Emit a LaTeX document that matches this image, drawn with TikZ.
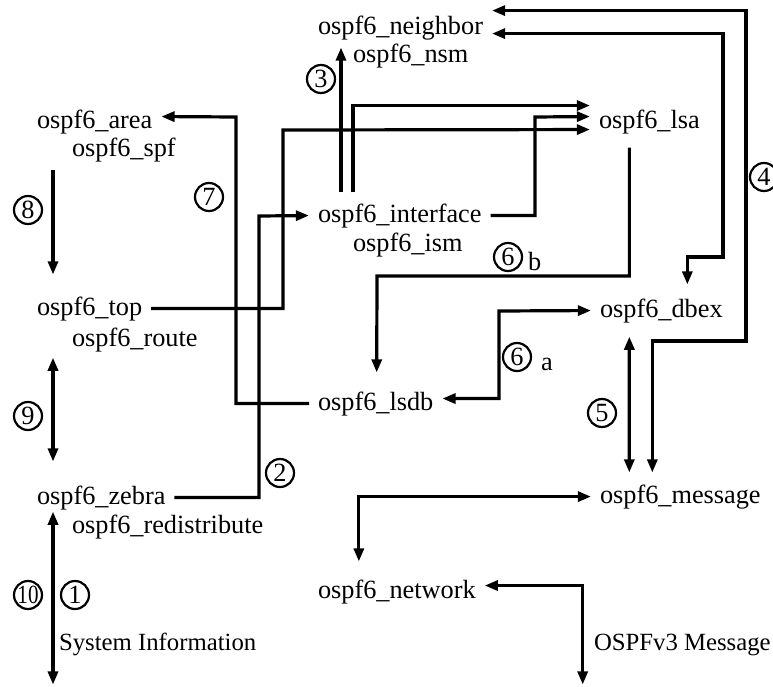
\documentclass[tikz,border=0pt]{standalone}
\usepackage{fontspec}
\setmainfont{Liberation Serif}
\usetikzlibrary{arrows.meta}

\begin{document}
\begin{tikzpicture}[x=0.25mm,y=-0.25mm,
  >={Triangle[length=3.3mm,width=2.5mm]},
  every node/.style={font=\fontsize{18.7pt}{22pt}\selectfont},
  mod/.style={anchor=text,inner xsep=2.25mm,inner ysep=0pt,outer sep=0pt},
  note/.style={anchor=text,inner sep=0pt,font=\fontsize{17.6pt}{21pt}\selectfont},
  num/.style={circle,draw,line width=0.55mm,minimum size=7mm,inner sep=0pt},
  link/.style={line width=0.8mm}]
  \path[use as bounding box] (0,0) rectangle (773,686);  % 1 unit = 1 px of the 773x686 canvas, y down
  % ---- modules: anchor=text puts the left end of the baseline at the coordinate ----
  \node[mod] (neighbor)  at (318, 35) {ospf6\_neighbor};
  \node[mod] (nsm)       at (353, 63) {ospf6\_nsm};
  \node[mod] (lsa)       at (599,128) {ospf6\_lsa};
  \node[mod] (area)      at ( 37,128) {ospf6\_area};
  \node[mod] (spf)       at ( 72,156) {ospf6\_spf};
  \node[mod] (interface) at (318,222) {ospf6\_interface};
  \node[mod] (ism)       at (353,251) {ospf6\_ism};
  \node[mod] (top)       at ( 37,315) {ospf6\_top};
  \node[mod] (route)     at ( 72,346) {ospf6\_route};
  \node[mod] (dbex)      at (600,317) {ospf6\_dbex};
  \node[mod] (lsdb)      at (318,410) {ospf6\_lsdb};
  \node[mod] (zebra)     at ( 37,504) {ospf6\_zebra};
  \node[mod] (redist)    at ( 72,533) {ospf6\_redistribute};
  \node[mod] (message)   at (600,503) {ospf6\_message};
  \node[mod] (network)   at (318,598) {ospf6\_network};
  \node[note] (sysinfo)  at ( 59,650) {System Information};
  \node[note] (wire)     at (594,650) {OSPFv3 Message};
  % ---- links ----
  \draw[link,->] (top.east) -| (283,130) -- ([yshift=-2mm]lsa.west);
  \draw[link,->] (zebra.east) -| (259,216) -- (interface.west);
  \draw[link,->] ([shift={(32,-11)}]interface.north west) -- ++(0,-145);
  \draw[link,->] ([shift={(44,-11)}]interface.north west) |- ([yshift=4mm]lsa.west);
  \draw[link,->] (interface.east) -| (535,117) -- ([yshift=1.25mm]lsa.west);
  \draw[link,->] ([shift={(-20,14)}]lsa.south) |- (377,276) -- ([shift={(1,-19)}]lsdb.north);
  \draw[link,->] (lsdb.west) -| (236,117) -- ([yshift=1.25mm]area.east);
  \draw[link,->] ([shift={(-10,8)}]spf.south west) -- ([shift={(25,-22)}]top.north west);
  \draw[link,<->] ([shift={(-10,6)}]route.south west) -- ([shift={(25,-24)}]zebra.north west);
  \draw[link,<->] ([shift={(25,2)}]zebra.south west) -- ++(0,173);
  \draw[link,<->] ([yshift=1.25mm]lsdb.east) -| (499,311) -- (dbex.west);
  \draw[link,<->] ([yshift=4.5mm]neighbor.east) -| (746,341) -| ([shift={(-28,-12)}]message.north);
  \draw[link,<->] ([yshift=-1.25mm]neighbor.east) -| (723,257) -| ([shift={(26,-14)}]dbex.north);
  \draw[link,<->] ([shift={(-32,14)}]dbex.south) -- ([shift={(-51,-12)}]message.north);
  \draw[link,<->] (message.west) -| ([shift={(-38,-18)}]network.north);
  \draw[link,<->] ([yshift=1.5mm]network.east) -| ++(98,99);
  % ---- step numbers ----
  \node[num] (n1)  at ( 75,595) {1};
  \node[num] (n2)  at (280,473) {2};
  \node[num] (n3)  at (321, 79) {3};
  \node[num] (n4)  at (764,177) {4};
  \node[num] (n5)  at (602,413) {5};
  \node[num] (n6a) at (517,357) {6};
  \node[num] (n6b) at (508,257) {6};
  \node[num] (n7)  at (209,197) {7};
  \node[num] (n8)  at ( 28,210) {8};
  \node[num] (n9)  at ( 28,416) {9};
  \node[num] (n10) at ( 28,595) {\makebox[0pt]{\scalebox{0.8}[1]{10}}};
  \node[mod,inner sep=0pt] (sub6a) at (541,370) {a};
  \node[mod,inner sep=0pt] (sub6b) at (528,270) {b};
\end{tikzpicture}
\end{document}
